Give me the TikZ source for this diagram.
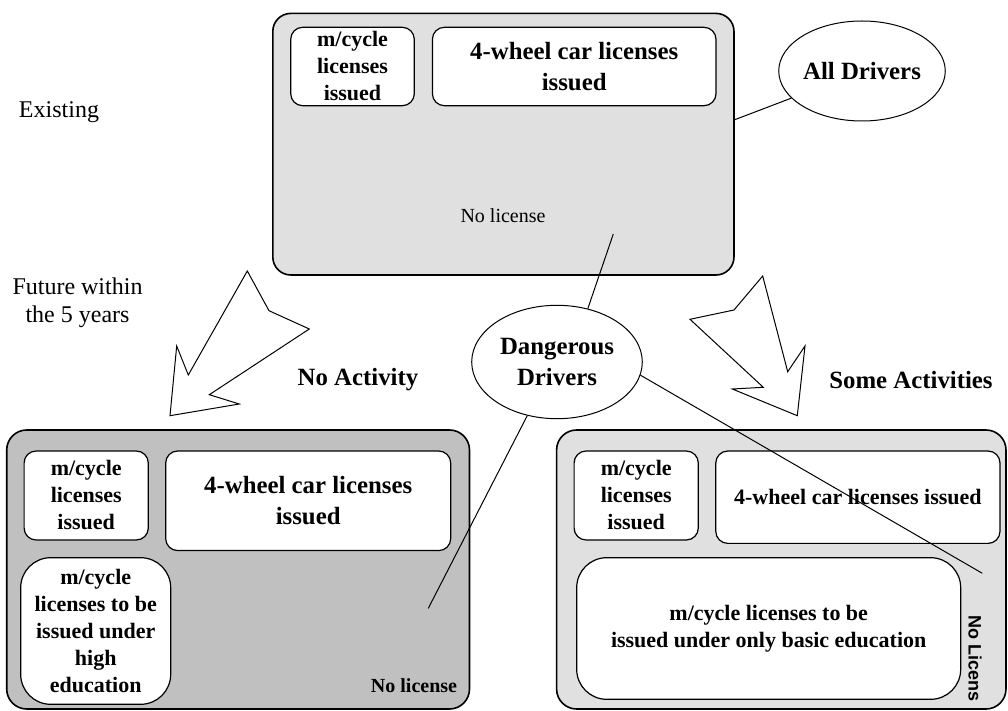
\documentclass[tikz,border=0pt]{standalone}
\usepackage{fontspec}
\setmainfont{Liberation Serif}
\newfontfamily\arialfnt{Liberation Sans}
\usetikzlibrary{shapes.geometric}
\definecolor{paleboxgray}{HTML}{E0E0E0}
\definecolor{darkboxgray}{HTML}{C0C0C0}
\newcommand{\labelfnt}{\fontsize{12.4}{15.5}\selectfont\bfseries}
\newcommand{\boxfnt}{\fontsize{11}{13.5}\selectfont\bfseries}
\newcommand{\plainfnt}{\fontsize{12}{14}\selectfont}

\begin{document}
\begin{tikzpicture}[x=0.5pt, y=-0.5pt,
  outerbox/.style={draw, line width=0.8pt, rounded corners=9pt, inner sep=0pt},
  innerbox/.style={draw, fill=white, line width=0.6pt, rounded corners=6pt, align=center, inner sep=0pt, font=\boxfnt},
  drvellipse/.style={ellipse, draw, fill=white, line width=0.5pt, align=center, inner sep=0pt, font=\labelfnt},
  link/.style={line width=0.5pt},
  bigarrow/.style={draw, fill=white, line width=0.5pt, line join=miter}]
\useasboundingbox (0,0) rectangle (1008,711);

% Existing (top)
\node[outerbox, fill=paleboxgray, minimum width=230.6pt, minimum height=130.8pt] (top) at (503.4,144.2) {};
\node[innerbox, minimum width=61.8pt, minimum height=39.2pt] (topmc) at (352.5,66.5) {m/cycle\\licenses\\issued};
\node[innerbox, font=\labelfnt, minimum width=141.8pt, minimum height=39.2pt] (topcar) at (574.2,66.5) {4-wheel car licenses\\issued};
\node[font=\fontsize{10}{12}\selectfont] (topnone) at (503,216) {No license};
\coordinate (topin) at (613.3,234);
\coordinate (topedge) at (734,120);

\node[font=\plainfnt] (exist) at (59,112) {Existing};
\node[font=\plainfnt, align=center] (future) at (77.5,303) {Future within\\the 5 years};

% Drivers
\node[drvellipse, minimum width=79pt, minimum height=50pt] (alldrv) at (862,71) {All Drivers};
\node[drvellipse, minimum width=85.3pt, minimum height=56.7pt] (dangdrv) at (557,362) {Dangerous\\Drivers};

% Arrows
\draw[bigarrow] (247.3,271) -- (269,310.7) -- (309.3,329) -- (209.3,394.7) -- (239.3,404) -- (170,415.7) -- (176.7,346) -- (188.3,375) -- cycle;
\draw[bigarrow] (762.7,276) -- (787.7,371.7) -- (805,346) -- (797.3,415.7) -- (732.3,389) -- (763.3,387.3) -- (690,319.3) -- (734,310) -- cycle;
\node[font=\labelfnt] (noact) at (358,380) {No Activity};
\node[font=\labelfnt] (someact) at (911,380) {Some Activities};

% No activity (bottom left)
\node[outerbox, fill=darkboxgray, rounded corners=10pt, minimum width=231.4pt, minimum height=139.5pt] (left) at (238.1,569.5) {};
\node[innerbox, minimum width=62.1pt, minimum height=44.5pt] (leftmc) at (86.2,495.5) {m/cycle\\licenses\\issued};
\node[innerbox, font=\labelfnt, minimum width=142.5pt, minimum height=49.8pt] (leftcar) at (308.2,500.8) {4-wheel car licenses\\issued};
\node[innerbox, rounded corners=15pt, minimum width=75pt, minimum height=73.3pt] (lefthigh) at (95.7,631) {m/cycle\\licenses to be\\issued under\\high\\education};
\node[font=\fontsize{10}{12}\selectfont\bfseries] (leftnone) at (414,686) {No license};
\coordinate (leftin) at (428.3,608.3);

% Some activities (bottom right)
\node[outerbox, fill=paleboxgray, rounded corners=10pt, minimum width=224.7pt, minimum height=139.5pt] (right) at (781.3,569.5) {};
\node[innerbox, minimum width=62.1pt, minimum height=44.5pt] (rightmc) at (636.2,495.5) {m/cycle\\licenses\\issued};
\node[innerbox, minimum width=142.1pt, minimum height=46.2pt] (rightcar) at (857.9,497.2) {4-wheel car licenses issued};
\node[innerbox, rounded corners=15pt, minimum width=192pt, minimum height=70.8pt] (rightbasic) at (768.7,628.5) {m/cycle licenses to be\\issued under only basic education};
\node[font=\arialfnt\fontsize{9}{11}\selectfont\bfseries, rotate=-90] (rightnone) at (975,659) {No Licens};
\coordinate (rightin) at (982.3,573.3);

% Links
\draw[link] (alldrv.201) -- (topedge);
\draw[link] (dangdrv.60) -- (topin);
\draw[link] (dangdrv.-119) -- (leftin);
\draw[link] (dangdrv.-9) -- (rightin);
\end{tikzpicture}
\end{document}
